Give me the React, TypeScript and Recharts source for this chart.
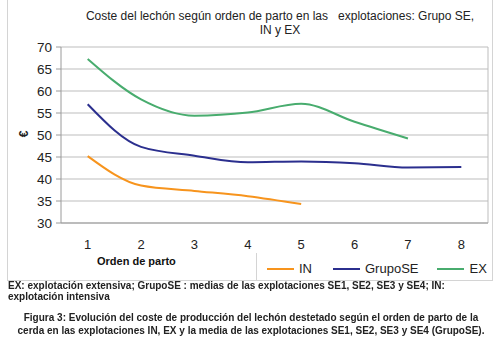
import React from 'react';
import { LineChart, Line, XAxis, YAxis, CartesianGrid, ReferenceLine } from 'recharts';

const partos = [1, 2, 3, 4, 5, 6, 7, 8];
const inValues: (number | null)[] = [45.2, 38.5, 37.3, 36.1, 34.3, null, null, null];
const grupoSEValues: (number | null)[] = [57.0, 47.3, 45.3, 43.8, 44.0, 43.6, 42.6, 42.7];
const exValues: (number | null)[] = [67.3, 58.1, 54.4, 55.1, 57.1, 53.0, 49.2, null];
const yTicks = [30, 35, 40, 45, 50, 55, 60, 65, 70];
const boundaryTicks = [1.5, 2.5, 3.5, 4.5, 5.5, 6.5, 7.5];
const seriesNames = ['IN', 'GrupoSE', 'EX'];

const titleLine1 = 'Coste del lechón según orden de parto en las \u00a0 explotaciones: Grupo SE,';
const titleLine2 = 'IN y EX';
const note1 = 'EX: explotación extensiva; GrupoSE : medias de las explotaciones SE1, SE2, SE3 y SE4; IN:';
const note2 = 'explotación intensiva';
const fig1 = 'Figura 3: Evolución del coste de producción del lechón destetado según el orden de parto de la';
const fig2 = 'cerda en las explotaciones IN, EX y la media de las explotaciones SE1, SE2, SE3 y SE4 (GrupoSE).';

const COLORS: Record<string, string> = { IN: '#F7941D', GrupoSE: '#2B2F8E', EX: '#48AC6E' };

const data = partos.map((p, i) => ({
  parto: p,
  IN: inValues[i],
  GrupoSE: grupoSEValues[i],
  EX: exValues[i],
}));

const font = '"Liberation Sans", Arial, sans-serif';

export default function App() {
  return (
    <div style={{ position: 'fixed', left: 0, top: 0, width: 500, height: 351, background: '#fff', fontFamily: font }}>
      <div style={{ position: 'absolute', left: 7, top: -2, width: 486, height: 283, border: '1px solid #d4d4d4', boxSizing: 'border-box' }} />
      <div style={{ position: 'absolute', left: 256, top: 253, width: 1, height: 28, background: '#d4d4d4' }} />
      <div style={{ position: 'absolute', left: 0, top: 0 }}>
        <LineChart width={500} height={351} data={data} margin={{ top: 47, right: 12, bottom: 98, left: 21 }}>
          <CartesianGrid horizontal vertical={false} stroke="#bdbdbd" />
          <XAxis
            dataKey="parto"
            type="number"
            domain={[0.5, 8.5]}
            ticks={partos}
            interval={0}
            tickLine={false}
            axisLine={{ stroke: '#9a9a9a' }}
            tick={{ fill: '#222', fontSize: 13, fontFamily: font }}
            tickMargin={11}
            height={30}
          />
          <XAxis
            xAxisId="b"
            dataKey="parto"
            type="number"
            domain={[0.5, 8.5]}
            ticks={boundaryTicks}
            interval={0}
            tick={false}
            tickLine={{ stroke: '#9a9a9a' }}
            tickSize={5}
            axisLine={false}
            height={0}
          />
          <YAxis
            domain={[30, 70]}
            ticks={yTicks}
            interval={0}
            width={40}
            tickSize={5}
            tickMargin={4}
            axisLine={{ stroke: '#9a9a9a' }}
            tickLine={{ stroke: '#9a9a9a' }}
            tick={{ fill: '#222', fontSize: 13.5, fontFamily: font }}
          />
          <ReferenceLine x={8.5} stroke="#bdbdbd" />
          <Line type="monotone" dataKey="IN" stroke={COLORS.IN} strokeWidth={2} dot={false} isAnimationActive={false} />
          <Line type="monotone" dataKey="GrupoSE" stroke={COLORS.GrupoSE} strokeWidth={2} dot={false} isAnimationActive={false} />
          <Line type="monotone" dataKey="EX" stroke={COLORS.EX} strokeWidth={2} dot={false} isAnimationActive={false} />
        </LineChart>
      </div>
      <div style={{ position: 'absolute', left: 267, top: 261, display: 'flex', alignItems: 'center', fontSize: 13, color: '#222' }}>
        {seriesNames.map((n, i) => (
          <div key={n} style={{ display: 'flex', alignItems: 'center', marginRight: i === 0 ? 21 : i === 1 ? 19 : 0 }}>
            <div style={{ width: 27, height: 2, background: COLORS[n], marginRight: 5 }} />
            <span>{n}</span>
          </div>
        ))}
      </div>
      <div style={{ position: 'absolute', left: 60, width: 440, top: 9, textAlign: 'center', fontSize: 12, lineHeight: '14px', color: '#222' }}>
        {titleLine1}
        <br />
        {titleLine2}
      </div>
      <div style={{ position: 'absolute', left: 21, top: 127, fontSize: 12, fontWeight: 'bold', color: '#222', transform: 'rotate(-90deg)' }}>€</div>
      <div style={{ position: 'absolute', left: 97, top: 255, fontSize: 11, fontWeight: 'bold', color: '#111' }}>Orden de parto</div>
      <div style={{ position: 'absolute', left: 8, top: 280, fontSize: 10, fontWeight: 'bold', lineHeight: '11px', color: '#222', whiteSpace: 'nowrap' }}>
        {note1}
        <br />
        {note2}
      </div>
      <div style={{ position: 'absolute', left: 0, width: 502, top: 311, fontSize: 10, fontWeight: 'bold', lineHeight: '13px', color: '#222', textAlign: 'center', whiteSpace: 'nowrap' }}>
        {fig1}
        <br />
        {fig2}
      </div>
    </div>
  );
}
